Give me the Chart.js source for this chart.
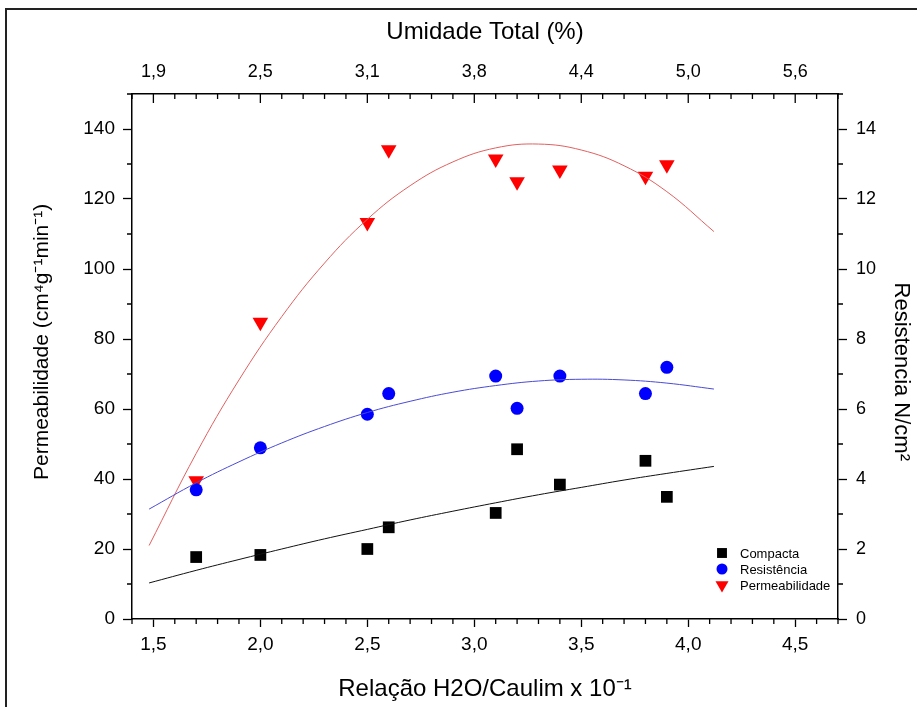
<!DOCTYPE html>
<html>
<head>
<meta charset="utf-8">
<script src="https://cdn.jsdelivr.net/npm/chart.js@4.4.1/dist/chart.umd.min.js"></script>
<style>
  body { margin:0; background:#fff; overflow:hidden; }
  #wrap { position:relative; width:917px; height:707px; }
  #frame { position:absolute; left:5px; top:8px; width:1000px; height:1000px; border:2px solid #222; box-sizing:border-box; pointer-events:none; }
</style>
</head>
<body>
<div id="wrap">
  <canvas id="grafico"></canvas>
  <div id="frame"></div>
</div>
<script>
/* ===============================
  Dados
================================ */
const relacao        = [1.7, 2.0, 2.5, 2.6, 3.1, 3.2, 3.4, 3.8, 3.9];
const compacta       = [17.7, 18.3, 20.0, 26.2, 30.3, 48.5, 38.4, 45.2, 34.9];
const resistencia    = [3.69, 4.89, 5.85, 6.44, 6.94, 6.02, 6.94, 6.44, 7.19];
const permeabilidade = [39.5, 84.8, 113.3, 134.1, 131.4, 124.9, 128.3, 126.5, 129.8];

// curvas de ajuste
const ajusteX           = [1.48, 1.7, 1.9, 2.1, 2.3, 2.5, 2.7, 2.9, 3.1, 3.3, 3.5, 3.7, 3.9, 4.12];
const ajusteCompacta    = [10.3, 13.9, 17.0, 20.0, 22.9, 25.6, 28.3, 30.8, 33.2, 35.5, 37.6, 39.7, 41.6, 43.6];
const ajusteResistencia = [3.14, 3.89, 4.49, 5.03, 5.50, 5.90, 6.22, 6.48, 6.67, 6.80, 6.85, 6.83, 6.74, 6.57];
const ajustePermeab     = [21.0, 47.3, 68.3, 86.4, 101.7, 114.2, 123.8, 130.6, 134.6, 135.7, 134.0, 129.5, 122.1, 110.7];

const xTicks       = [1.5, 2.0, 2.5, 3.0, 3.5, 4.0, 4.5];
const umidadeTicks = ['1,9', '2,5', '3,1', '3,8', '4,4', '5,0', '5,6'];
const yTicks       = [0, 20, 40, 60, 80, 100, 120, 140];
const y2Ticks      = [0, 2, 4, 6, 8, 10, 12, 14];

const arial = "'Liberation Sans', Arial, sans-serif";

function pares(xs, ys){ return xs.map((x,i)=>({x:x, y:ys[i]})); }
function virgula(v){ return v.toFixed(1).replace('.', ','); }

/* ================= ticks menores ================= */
const ticksMenores = {
    id:'ticksMenores',
    afterDraw(chart){
        const {ctx, chartArea:a, scales} = chart;
        ctx.save();
        ctx.strokeStyle='#000';
        ctx.lineWidth=1.3;
        ctx.beginPath();
        for(let i=14;i<=47;i++){
            const v=i/10, px=scales.x.getPixelForValue(v);
            const major = i%5===0;
            if(!major){ ctx.moveTo(px,a.bottom); ctx.lineTo(px,a.bottom+5); }
            ctx.moveTo(px,a.top); ctx.lineTo(px,a.top+(major?9:5));
        }
        for(let v=10;v<=150;v+=20){
            const py=scales.y.getPixelForValue(v);
            ctx.moveTo(a.left,py); ctx.lineTo(a.left-5,py);
        }
        for(let v=1;v<=15;v+=2){
            const py=scales.y2.getPixelForValue(v);
            ctx.moveTo(a.right,py); ctx.lineTo(a.right+5,py);
        }
        ctx.stroke();
        ctx.restore();
    }
};

/* ================= legenda ================= */
const legenda = {
    id:'legenda',
    afterDraw(chart){
        const {ctx, chartArea:a} = chart;
        const itens = chart.data.datasets.filter(d=>d.legenda);
        ctx.save();
        ctx.font = '13px ' + arial;
        ctx.textBaseline='middle';
        itens.forEach((d,i)=>{
            const x=a.right-116, y=a.bottom-66+i*16;
            ctx.fillStyle=d.backgroundColor;
            ctx.strokeStyle=d.borderColor;
            Chart.helpers.drawPoint(ctx,{pointStyle:d.pointStyle, radius:d.legenda, rotation:d.rotation||0, borderWidth:0},x,y);
            ctx.fillStyle='#000';
            ctx.fillText(d.label,x+18,y+1);
        });
        ctx.restore();
    }
};

new Chart(document.getElementById('grafico'),{
    type:'scatter',
    data:{
        datasets:[
            {label:'ajuste compacta', data:pares(ajusteX,ajusteCompacta), showLine:true, pointRadius:0, borderColor:'#111', borderWidth:1, tension:0.4, xAxisID:'x', yAxisID:'y'},
            {label:'ajuste resistencia', data:pares(ajusteX,ajusteResistencia), showLine:true, pointRadius:0, borderColor:'#4a4ad6', borderWidth:1, tension:0.4, xAxisID:'x', yAxisID:'y2'},
            {label:'ajuste permeabilidade', data:pares(ajusteX,ajustePermeab), showLine:true, pointRadius:0, borderColor:'#e06060', borderWidth:1, tension:0.4, xAxisID:'x', yAxisID:'y'},
            {label:'Compacta', legenda:7, data:pares(relacao,compacta), pointStyle:'rect', pointRadius:8.3, backgroundColor:'#000', borderColor:'#000', borderWidth:0, xAxisID:'x', yAxisID:'y'},
            {label:'Resistência', legenda:5.5, data:pares(relacao,resistencia), pointStyle:'circle', pointRadius:6.5, backgroundColor:'#0000ff', borderColor:'#0000ff', borderWidth:0, xAxisID:'x', yAxisID:'y2'},
            {label:'Permeabilidade', legenda:7.5, data:pares(relacao,permeabilidade), pointStyle:'triangle', rotation:180, pointRadius:9, backgroundColor:'#ff0000', borderColor:'#ff0000', borderWidth:0, xAxisID:'x', yAxisID:'y'}
        ]
    },
    options:{
        responsive:true,
        maintainAspectRatio:false,
        animation:false,
        layout:{padding:0},
        plugins:{legend:{display:false}, tooltip:{enabled:false}},
        scales:{
            x:{
                type:'linear', position:'bottom', min:1.4, max:4.7,
                afterBuildTicks:s=>{ s.ticks = xTicks.map(v=>({value:v})); },
                afterFit:s=>{ s.height=88; },
                grid:{drawOnChartArea:false, tickLength:8, tickColor:'#000', tickWidth:1.3},
                border:{display:true, color:'#000', width:1.5},
                ticks:{color:'#000', padding:6, maxRotation:0, font:{family:arial, size:19}, callback:v=>virgula(v)},
                title:{display:true, text:'Relação H2O/Caulim x 10⁻¹', color:'#000', padding:{top:0,bottom:3}, font:{family:arial, size:24}}
            },
            xTop:{
                type:'linear', position:'top', min:1.4, max:4.7,
                afterBuildTicks:s=>{ s.ticks = xTicks.map(v=>({value:v})); },
                afterFit:s=>{ s.height=94; },
                grid:{drawOnChartArea:false, drawTicks:false},
                border:{display:true, color:'#000', width:1.5},
                ticks:{color:'#000', padding:11, maxRotation:0, font:{family:arial, size:18}, callback:(v,i)=>umidadeTicks[i]},
                title:{display:true, text:'Umidade Total (%)', color:'#000', padding:{top:18,bottom:0}, font:{family:arial, size:24}}
            },
            y:{
                type:'linear', position:'left', min:0, max:150,
                afterBuildTicks:s=>{ s.ticks = yTicks.map(v=>({value:v})); },
                afterFit:s=>{ s.width=132; },
                grid:{drawOnChartArea:false, tickLength:9, tickColor:'#000', tickWidth:1.3},
                border:{display:true, color:'#000', width:1.5},
                ticks:{color:'#000', padding:8, font:{family:arial, size:19}},
                title:{display:true, text:'     Permeabilidade (cm⁴g⁻¹min⁻¹)', color:'#000', padding:{top:30,bottom:0}, font:{family:arial, size:21}}
            },
            y2:{
                type:'linear', position:'right', min:0, max:15,
                afterBuildTicks:s=>{ s.ticks = y2Ticks.map(v=>({value:v})); },
                afterFit:s=>{ s.width=79; },
                grid:{drawOnChartArea:false, tickLength:9, tickColor:'#000', tickWidth:1.3},
                border:{display:true, color:'#000', width:1.5},
                ticks:{color:'#000', padding:9, font:{family:arial, size:18}},
                title:{display:true, text:'     Resistencia N/cm²', color:'#000', padding:{top:3,bottom:0}, font:{family:arial, size:22}}
            }
        }
    },
    plugins:[ticksMenores, legenda]
});
</script>
</body>
</html>
